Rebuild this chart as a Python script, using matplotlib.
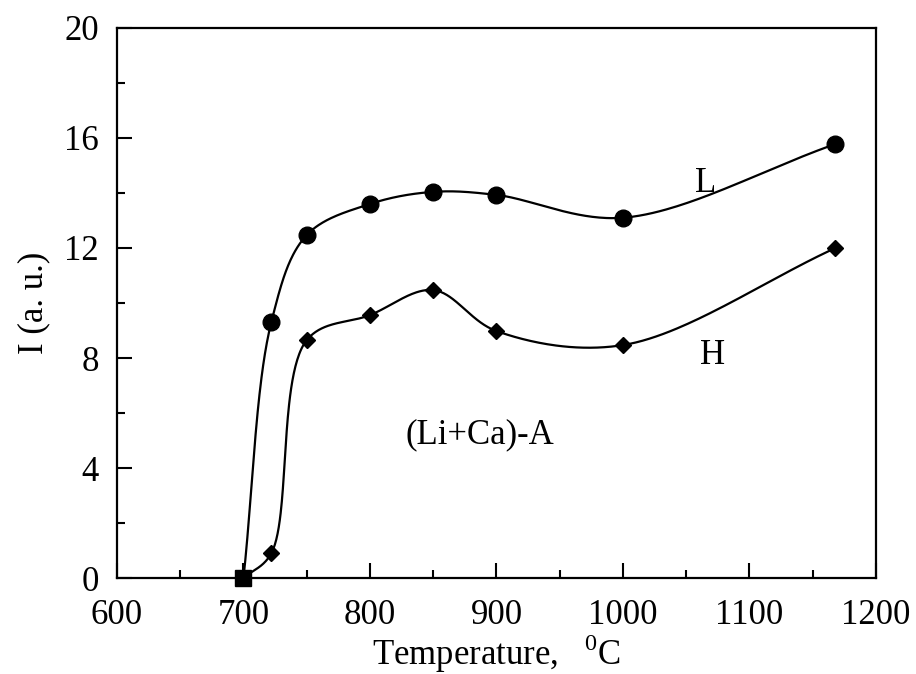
import numpy as np
import matplotlib.pyplot as plt
from matplotlib.ticker import MultipleLocator

plt.rcParams['font.family'] = ['Liberation Serif', 'DejaVu Serif']
plt.rcParams['mathtext.fontset'] = 'custom'
plt.rcParams['mathtext.rm'] = 'Liberation Serif'

# data
temp_L = [700, 722, 750, 800, 850, 900, 1000, 1168]
int_L = [0.0, 9.3, 12.47, 13.6, 14.04, 13.93, 13.1, 15.78]
temp_H = [700, 722, 750, 800, 850, 900, 1000, 1168]
int_H = [0.0, 0.9, 8.65, 9.56, 10.47, 8.98, 8.47, 12.0]

x_ticks = [600, 700, 800, 900, 1000, 1100, 1200]
y_ticks = [0, 4, 8, 12, 16, 20]


def smooth(xs, ys, n=60, alpha=0.5):
    # centripetal catmull-rom, worked out in screen-like units
    sx_, sy_ = 758 / 600.0, 550 / 20.0
    p = np.column_stack([(np.array(xs, float) - 600) * sx_, np.array(ys, float) * sy_])
    p = np.vstack([2 * p[0] - p[1], p, 2 * p[-1] - p[-2]])
    out = []
    for i in range(1, len(p) - 2):
        p0, p1, p2, p3 = p[i - 1], p[i], p[i + 1], p[i + 2]
        t0 = 0.0
        t1 = t0 + np.linalg.norm(p1 - p0) ** alpha
        t2 = t1 + np.linalg.norm(p2 - p1) ** alpha
        t3 = t2 + np.linalg.norm(p3 - p2) ** alpha
        t = np.linspace(t1, t2, n)[:, None]
        a1 = (t1 - t) / (t1 - t0) * p0 + (t - t0) / (t1 - t0) * p1
        a2 = (t2 - t) / (t2 - t1) * p1 + (t - t1) / (t2 - t1) * p2
        a3 = (t3 - t) / (t3 - t2) * p2 + (t - t2) / (t3 - t2) * p3
        b1 = (t2 - t) / (t2 - t0) * a1 + (t - t0) / (t2 - t0) * a2
        b2 = (t3 - t) / (t3 - t1) * a2 + (t - t1) / (t3 - t1) * a3
        out.append((t2 - t) / (t2 - t1) * b1 + (t - t1) / (t2 - t1) * b2)
    out = np.vstack(out)
    return out[:, 0] / sx_ + 600, out[:, 1] / sy_


fig = plt.figure(figsize=(9.16, 6.74), dpi=100)
ax = fig.add_axes([0.1277, 0.1424, 0.8286, 0.8161])

sx, sy = smooth(temp_L, int_L)
ax.plot(sx, sy, color='black', lw=1.6)
sx, sy = smooth(temp_H, int_H)
ax.plot(sx, sy, color='black', lw=1.6)

ax.plot(temp_L[1:], int_L[1:], 'o', color='black', ms=12)
ax.plot(temp_H[1:], int_H[1:], 'D', color='black', ms=8.5)
ax.plot(temp_L[0], int_L[0], 's', color='black', ms=11, clip_on=False)

ax.text(1065, 14.36, 'L', fontsize=25, ha='center', va='center')
ax.text(1071, 8.1, 'H', fontsize=25, ha='center', va='center')
ax.text(887, 5.2, '(Li+Ca)-A', fontsize=25, ha='center', va='center')

ax.set_xlim(600, 1200)
ax.set_ylim(0, 20)
ax.set_xticks(x_ticks)
ax.set_yticks(y_ticks)
ax.xaxis.set_minor_locator(MultipleLocator(50))
ax.yaxis.set_minor_locator(MultipleLocator(2))
ax.tick_params(which='both', direction='in', top=False, right=False, labelsize=25, width=1.5)
ax.tick_params(which='major', length=11)
ax.tick_params(axis='x', which='major', pad=15)
ax.tick_params(axis='y', which='major', pad=13)
ax.tick_params(which='minor', length=6)
for s in ax.spines.values():
    s.set_linewidth(1.6)

ax.set_xlabel(r'Temperature,   $^{\mathrm{0}}$C', fontsize=25, labelpad=0)
ax.set_ylabel('I (a. u.)', fontsize=25, labelpad=10)

fig.savefig('out.png', dpi=100)
